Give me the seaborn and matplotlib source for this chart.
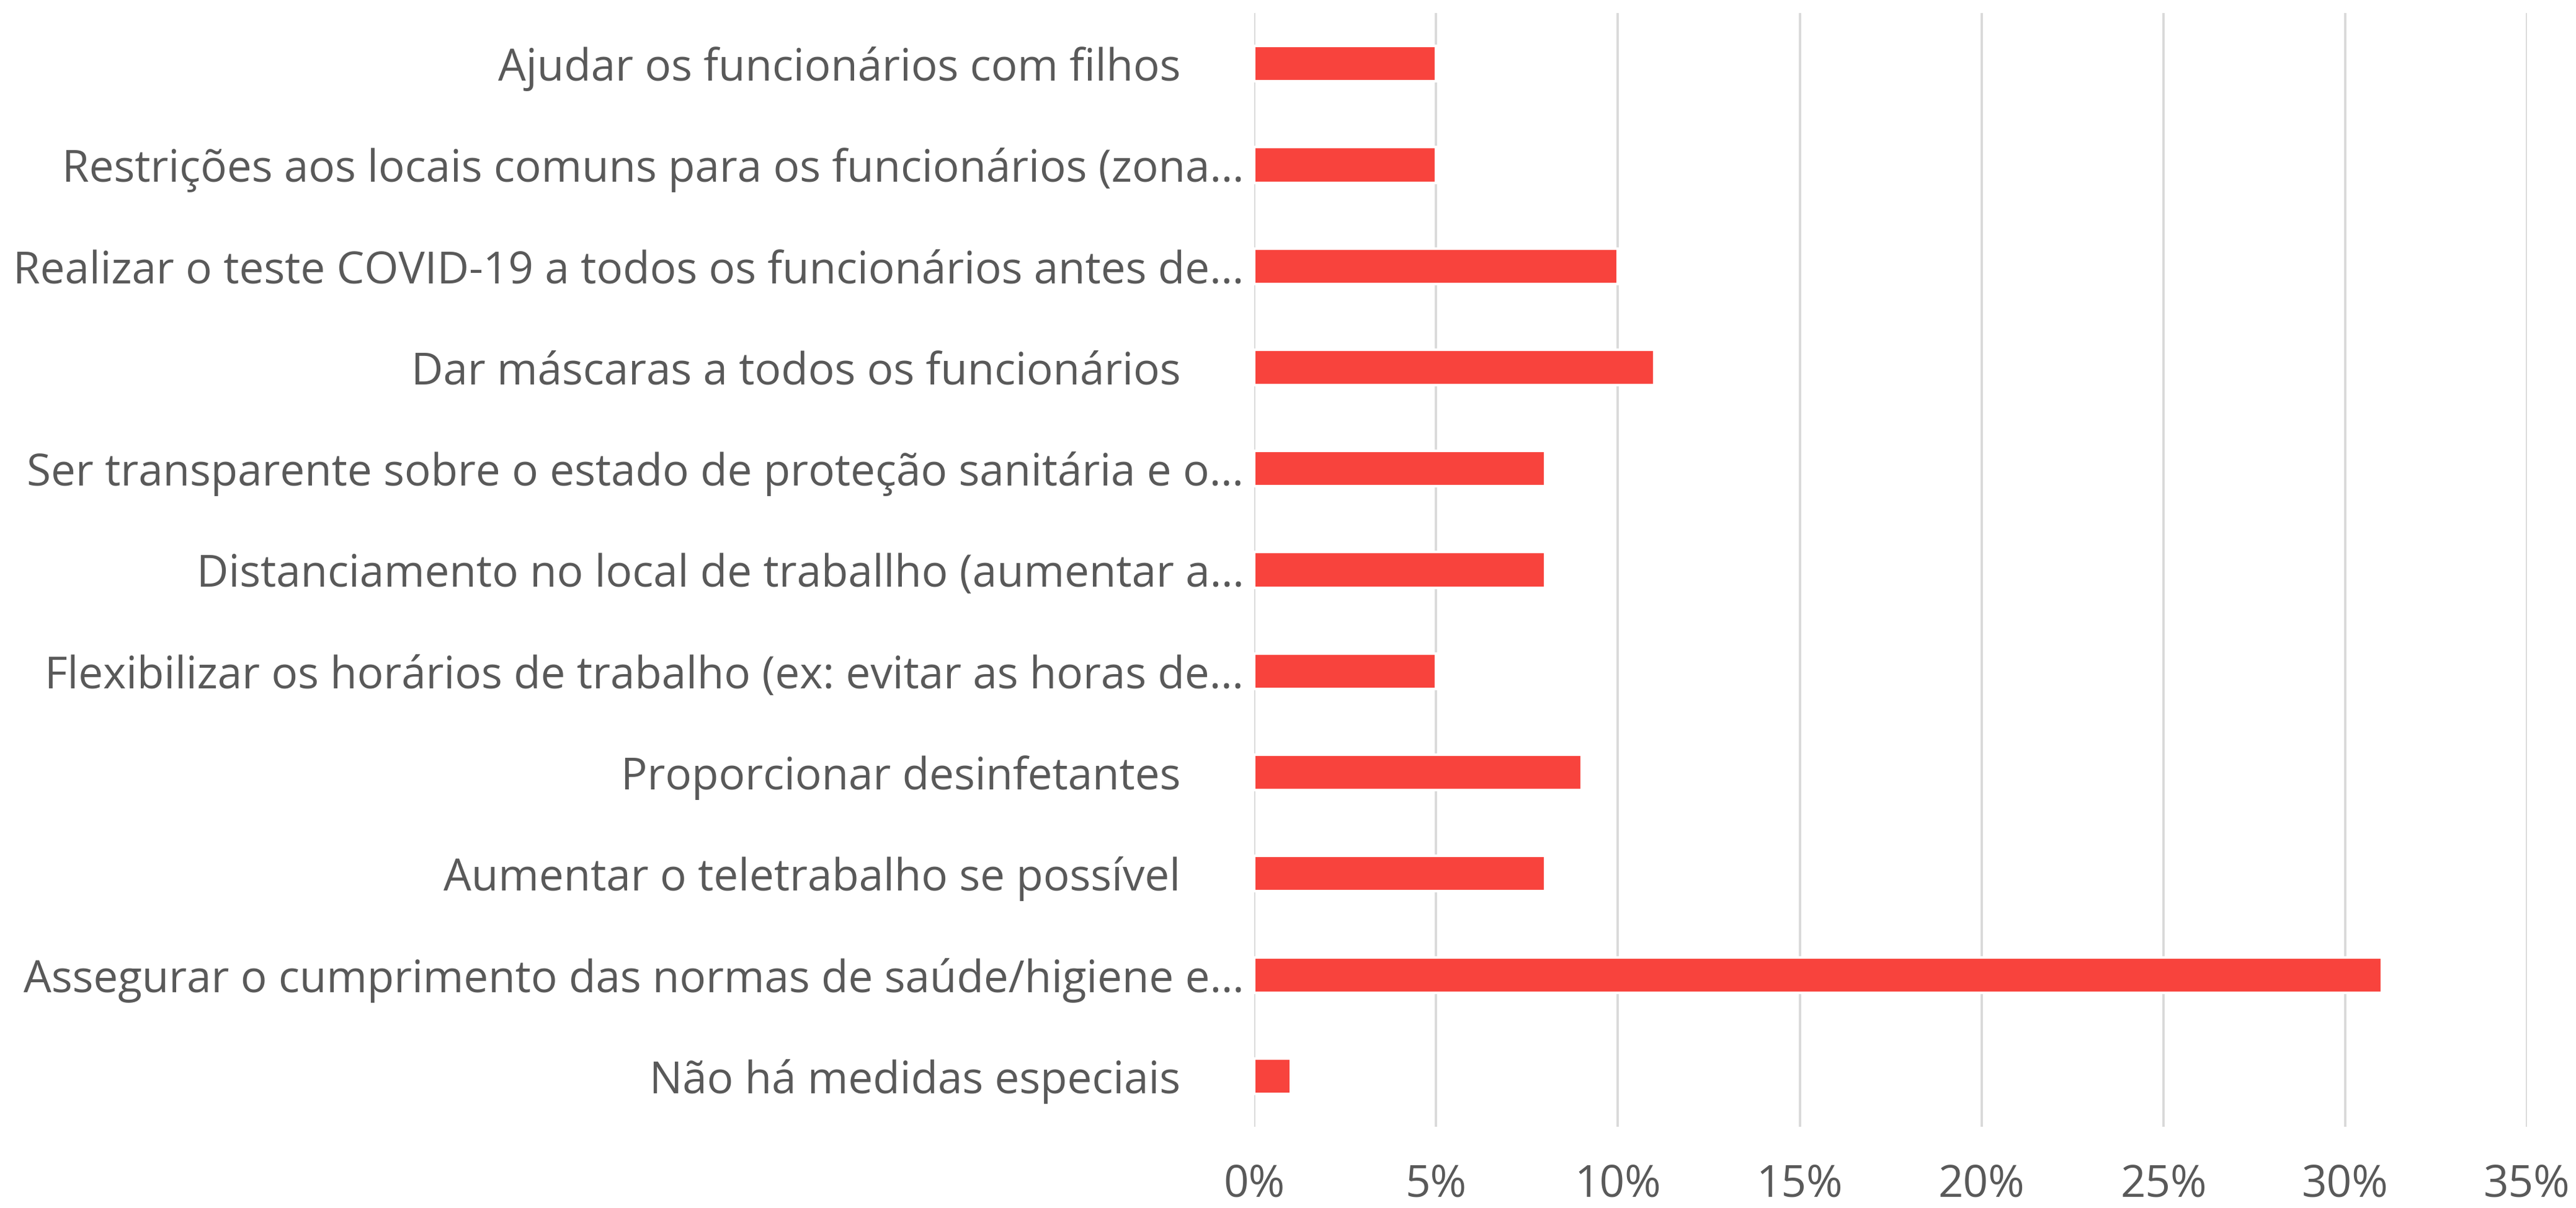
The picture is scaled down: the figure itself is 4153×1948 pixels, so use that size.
import pandas as pd
import seaborn as sns
import matplotlib.pyplot as plt
from matplotlib.ticker import FuncFormatter

# survey answers, top to bottom as in the chart
medidas = ['Ajudar os funcionários com filhos',
           'Restrições aos locais comuns para os funcionários (zona…',
           'Realizar o teste COVID-19 a todos os funcionários antes de…',
           'Dar máscaras a todos os funcionários',
           'Ser transparente sobre o estado de proteção sanitária e o…',
           'Distanciamento no local de traballho (aumentar a…',
           'Flexibilizar os horários de trabalho (ex: evitar as horas de…',
           'Proporcionar desinfetantes',
           'Aumentar o teletrabalho se possível',
           'Assegurar o cumprimento das normas de saúde/higiene e…',
           'Não há medidas especiais']
percent = [5, 5, 10, 11, 8, 8, 5, 9, 8, 31, 1]
x_ticks = [0, 5, 10, 15, 20, 25, 30, 35]

df = pd.DataFrame({'medida': medidas, 'pct': percent})

sns.set_theme(style='white')
plt.rcParams['font.family'] = ['Open Sans', 'DejaVu Sans']
text_col = '#595959'

fig = plt.figure(figsize=(4153 / 300, 1948 / 300), dpi=300)
ax = fig.add_axes([0.4869, 0.0672, 0.4941, 0.922])

sns.barplot(data=df, x='pct', y='medida', orient='h', color='#F8433D',
            saturation=1, width=0.35, ax=ax)

ax.set_xlim(0, 35)
ax.set_ylim(10.5, -0.5)
ax.set_xticks(x_ticks)
ax.xaxis.set_major_formatter(FuncFormatter(lambda v, p: f'{v:.0f}%'))
ax.grid(axis='x', color='#D9D9D9', linewidth=0.9)
ax.grid(axis='y', visible=False)
ax.set_axisbelow(True)
for s in ax.spines.values():
    s.set_visible(False)

ax.set_xlabel('')
ax.set_ylabel('')
ax.tick_params(axis='both', length=0, labelsize=17, labelcolor=text_col)
ax.tick_params(axis='x', pad=14)

# untruncated labels sit further from the axis (trailing space in source)
for t, lab in zip(ax.yaxis.get_major_ticks(), medidas):
    t.set_pad(4 if lab.endswith('…') else 28.5)

fig.savefig('out.png', dpi=300)
